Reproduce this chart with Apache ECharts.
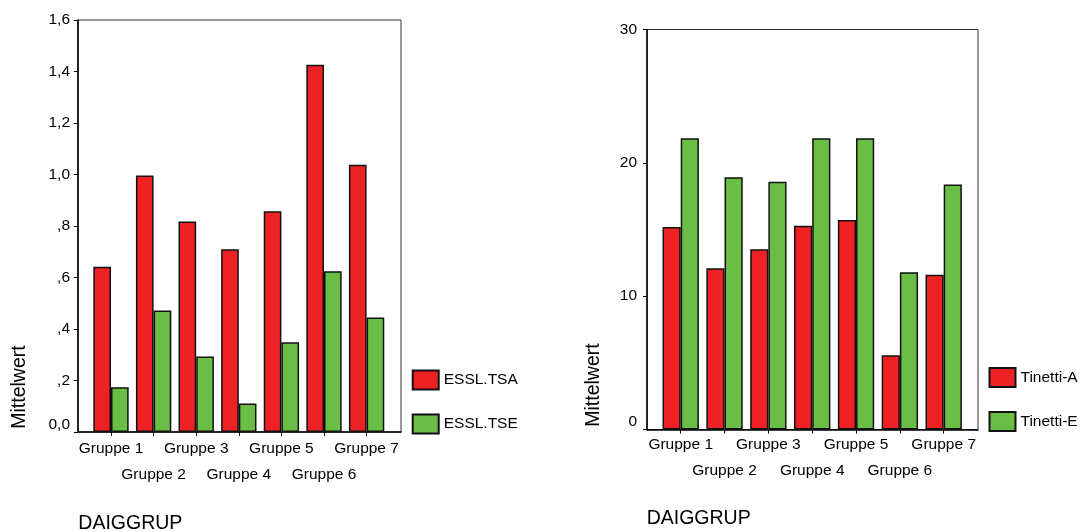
<!DOCTYPE html>
<html>
<head>
<meta charset="utf-8">
<script src="https://cdn.jsdelivr.net/npm/echarts@6/dist/echarts.min.js"></script>
<style>html,body{margin:0;padding:0;background:#fff}#c{width:1089px;height:532px}</style>
</head>
<body>
<div id="c"></div>
<script>
// ---- data ----
const categories = ['Gruppe 1', 'Gruppe 2', 'Gruppe 3', 'Gruppe 4', 'Gruppe 5', 'Gruppe 6', 'Gruppe 7'];
const esslTSA = [0.642, 0.996, 0.817, 0.710, 0.857, 1.426, 1.038];
const esslTSE = [0.174, 0.472, 0.293, 0.111, 0.349, 0.624, 0.445];
const tinettiA = [15.19, 12.10, 13.51, 15.29, 15.72, 5.56, 11.60];
const tinettiE = [21.84, 18.91, 18.58, 21.84, 21.84, 11.80, 18.37];
const leftSeriesNames = ['ESSL.TSA', 'ESSL.TSE'];
const rightSeriesNames = ['Tinetti-A', 'Tinetti-E'];
const leftAxis = { min: 0, max: 1.6, interval: 0.2 };
const rightAxis = { min: 0, max: 30, interval: 10 };
const yTitle = 'Mittelwert';
const xTitle = 'DAIGGRUP';

// ---- style ----
const FONT = "'Liberation Sans', Arial, Helvetica, sans-serif";
const RED = '#EE2225';
const GREEN = '#6ABD45';
const EDGE = '#111';

function fmtLeft(v) {
  let s = v.toFixed(1).replace('.', ',');
  if (v !== 0 && s.startsWith('0,')) s = s.slice(1);
  return v === 0 ? '{m|' + s + '}' : s;
}
function fmtRight(v) {
  return v === 0 ? '{m|0}' : String(v);
}
function xLabel(v, i) { return i % 2 ? '\n' + v : v; }

function frameX(gi) {
  return {
    gridIndex: gi, type: 'value', min: 0, max: 1,
    axisLine: { show: true, onZero: false, lineStyle: { color: '#000', width: 1.5 } },
    axisTick: { show: false }, axisLabel: { show: false }, splitLine: { show: false }
  };
}
function barX(gi, margin) {
  return {
    gridIndex: gi, type: 'category', data: categories,
    axisLine: { show: false },
    axisTick: { show: true, alignWithLabel: true, length: 4, lineStyle: { color: '#000', width: 1 } },
    axisLabel: { interval: 0, formatter: xLabel, margin: margin, lineHeight: 26,
      fontFamily: FONT, fontSize: 15.5, color: '#000' },
    splitLine: { show: false }
  };
}
function frameY(gi, ax, fmt, margin, pad) {
  return {
    gridIndex: gi, type: 'value', min: ax.min, max: ax.max, interval: ax.interval,
    axisLine: { show: true, onZero: false, lineStyle: { color: '#000', width: 1.5 } },
    axisTick: { show: true, length: 4, lineStyle: { color: '#000', width: 1 } },
    axisLabel: { formatter: fmt, margin: margin, fontFamily: FONT, fontSize: 15.5, color: '#000',
      rich: { m: { fontFamily: FONT, fontSize: 15.5, color: '#000', padding: [0, 0, pad, 0] } } },
    splitLine: { show: false }
  };
}
function hiddenY(gi, ax) {
  return { gridIndex: gi, type: 'value', min: ax.min, max: ax.max, interval: ax.interval, show: false, splitLine: { show: false } };
}
function bar(name, data, color, xi, yi) {
  return {
    type: 'bar', name: name, data: data, xAxisIndex: xi, yAxisIndex: yi,
    barGap: '0%', barCategoryGap: '17%',
    itemStyle: { color: color, borderColor: EDGE, borderWidth: 1.5 }
  };
}
function legend(names, left, top) {
  return {
    data: names, orient: 'vertical', left: left, top: top, padding: 0,
    itemWidth: 26, itemHeight: 19, itemGap: 23, icon: 'rect', selectedMode: false,
    textStyle: { fontFamily: FONT, fontSize: 15.5, color: '#000' }
  };
}
function txt(text, x, y, rot, align, size) {
  return { type: 'text', x: x, y: y, rotation: rot,
    style: { text: text, fill: '#000', font: size + 'px ' + FONT, align: align, verticalAlign: 'middle' } };
}

const chart = echarts.init(document.getElementById('c'), null, { renderer: 'canvas' });
chart.setOption({
  animation: false,
  backgroundColor: '#fff',
  grid: [
    { left: 78, top: 20, width: 323, height: 412, show: true, borderColor: '#333', borderWidth: 1, containLabel: false },
    { left: 89.7, top: 20, width: 298.2, height: 412, containLabel: false },
    { left: 647, top: 29.5, width: 331, height: 400, show: true, borderColor: '#333', borderWidth: 1, containLabel: false },
    { left: 658.8, top: 29.5, width: 306.8, height: 400, containLabel: false }
  ],
  xAxis: [frameX(0), barX(1, 4), frameX(2), barX(3, 2)],
  yAxis: [frameY(0, leftAxis, fmtLeft, 8, 14), hiddenY(1, leftAxis), frameY(2, rightAxis, fmtRight, 10, 16), hiddenY(3, rightAxis)],
  legend: [legend(leftSeriesNames, 411.7, 369.5), legend(rightSeriesNames, 988.5, 367)],
  series: [
    bar(leftSeriesNames[0], esslTSA, RED, 1, 1),
    bar(leftSeriesNames[1], esslTSE, GREEN, 1, 1),
    bar(rightSeriesNames[0], tinettiA, RED, 3, 3),
    bar(rightSeriesNames[1], tinettiE, GREEN, 3, 3)
  ],
  graphic: [
    txt(yTitle, 20, 387, Math.PI / 2, 'center', 19.5),
    txt(yTitle, 594, 385, Math.PI / 2, 'center', 19.5),
    txt(xTitle, 78.3, 524, 0, 'left', 19.5),
    txt(xTitle, 646.7, 519, 0, 'left', 19.5)
  ]
});
</script>
</body>
</html>
